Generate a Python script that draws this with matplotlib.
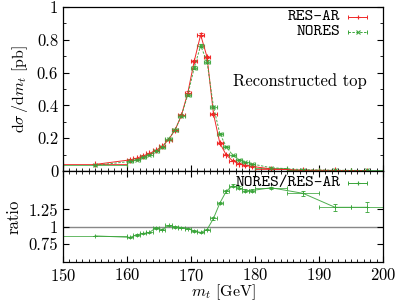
import numpy as np
import matplotlib
matplotlib.use("Agg")
import matplotlib.pyplot as plt
from matplotlib.ticker import MultipleLocator, FormatStrFormatter

plt.rcParams['font.family'] = ['cmr10', 'DejaVu Serif']
plt.rcParams['mathtext.fontset'] = 'cm'
plt.rcParams['axes.formatter.use_mathtext'] = True

# bin centres and half widths (GeV)
mt = [155, 160.5, 161.5, 162.5, 163.5, 164.5, 165.5, 166.5, 167.5, 168.5,
      169.5, 170.5, 171.5, 172.5, 173.5, 174.5, 175.5, 176.5, 177.5, 178.5,
      179.5, 182.5, 187.5, 192.5, 197.5]
half_w = [5] + [0.5] * 20 + [2.5] * 4

# dsigma/dmt [pb]
res_ar = [0.040, 0.068, 0.078, 0.092, 0.107, 0.126, 0.150, 0.192, 0.250, 0.340,
          0.478, 0.670, 0.830, 0.695, 0.350, 0.170, 0.098, 0.062, 0.045, 0.034,
          0.028, 0.013, 0.0055, 0.0035, 0.0025]
nores = [0.035, 0.058, 0.069, 0.083, 0.098, 0.124, 0.144, 0.196, 0.250, 0.337,
         0.466, 0.630, 0.764, 0.667, 0.392, 0.228, 0.148, 0.097, 0.070, 0.052,
         0.043, 0.020, 0.0081, 0.0045, 0.0032]
err_top = [0.002, 0.003, 0.003, 0.003, 0.003, 0.004, 0.004, 0.004, 0.005, 0.006,
           0.007, 0.008, 0.009, 0.008, 0.006, 0.004, 0.003, 0.003, 0.002, 0.002,
           0.002, 0.001, 0.001, 0.001, 0.001]

# NORES / RES-AR
ratio = [0.87, 0.85, 0.885, 0.905, 0.92, 0.985, 0.96, 1.02, 1.0, 0.99,
         0.975, 0.94, 0.92, 0.96, 1.12, 1.34, 1.51, 1.59, 1.56, 1.52,
         1.52, 1.56, 1.48, 1.28, 1.28]
ratio_err = [0.005, 0.01, 0.01, 0.01, 0.01, 0.01, 0.01, 0.01, 0.01, 0.01,
             0.01, 0.01, 0.01, 0.01, 0.015, 0.015, 0.02, 0.02, 0.02, 0.02,
             0.02, 0.015, 0.035, 0.05, 0.07]

red = '#f02828'
green = '#3aa53a'


def key(ax, y, label, color, marker, ls='-'):
    # gnuplot style key entry: text, then a sample bar with end ticks
    ax.text(0.866, y, label, transform=ax.transAxes, ha='right', va='center',
            family='cmtt10', fontsize=12)
    ax.plot([0.891, 0.95], [y, y], transform=ax.transAxes, color=color,
            lw=0.7, ls=ls, clip_on=False)
    ax.plot([0.891, 0.95], [y, y], transform=ax.transAxes, color=color,
            lw=0, marker='|', ms=3.5, mew=0.7, clip_on=False)
    ax.plot([0.9205], [y], transform=ax.transAxes, color=color,
            marker=marker, ms=3.5, mew=0.8, clip_on=False)


fig = plt.figure(figsize=(3.99, 3.04), dpi=100)
ax1 = fig.add_axes([0.158, 0.4375, 0.802, 0.5395])
ax2 = fig.add_axes([0.158, 0.139, 0.802, 0.2985])

ax1.errorbar(mt, res_ar, xerr=half_w, yerr=err_top, color=red, lw=0.7,
             marker='+', ms=4, mew=0.8, capsize=1.5, elinewidth=0.6)
ax1.errorbar(mt, nores, xerr=half_w, yerr=err_top, color=green, lw=0.7,
             ls=(0, (2.5, 1.5)), marker='x', ms=3.5, mew=0.8, capsize=1.5,
             elinewidth=0.6, alpha=0.9)

ax1.set_xlim(150, 200)
ax1.set_ylim(0, 1)
ax1.yaxis.set_major_locator(MultipleLocator(0.2))
ax1.yaxis.set_minor_locator(MultipleLocator(0.1))
ax1.xaxis.set_major_locator(MultipleLocator(10))
ax1.xaxis.set_minor_locator(MultipleLocator(1))
ax1.yaxis.set_major_formatter(FormatStrFormatter('%g'))
ax1.tick_params(which='both', direction='in', bottom=True, top=False,
                left=True, right=True, labelbottom=False, labelsize=12)
ax1.tick_params(which='major', length=4)
ax1.tick_params(which='minor', length=2)
ax1.set_ylabel(r'$\mathrm{d}\sigma\,/\mathrm{d}m_t$ [pb]', fontsize=11.5,
               labelpad=5)
ax1.text(0.95, 0.549, 'Reconstructed top', transform=ax1.transAxes,
         ha='right', va='center', fontsize=12)
key(ax1, 0.937, 'RES-AR', red, '+')
key(ax1, 0.846, 'NORES', green, 'x', ls=(0, (2.5, 1.5)))

ax2.errorbar(mt, ratio, xerr=half_w, yerr=ratio_err, color=green, lw=0.7,
             marker='+', ms=3.5, mew=0.7, capsize=1.5, elinewidth=0.6,
             alpha=0.9)
ax2.axhline(1, color='#888888', lw=1, zorder=1)
ax2.set_xlim(150, 200)
ax2.set_ylim(0.5, 1.8)
ax2.set_yticks([0.75, 1, 1.25])
ax2.yaxis.set_major_formatter(FormatStrFormatter('%g'))
ax2.xaxis.set_major_locator(MultipleLocator(10))
ax2.xaxis.set_minor_locator(MultipleLocator(1))
ax2.tick_params(which='both', direction='in', bottom=True, top=True,
                left=True, right=True, labelsize=12)
ax2.tick_params(which='major', length=4)
ax2.tick_params(which='minor', length=2)
ax2.set_ylabel('ratio', fontsize=12, labelpad=5)
ax2.set_xlabel(r'$m_t$ [GeV]', fontsize=11.5, labelpad=-1)
key(ax2, 0.871, 'NORES/RES-AR', green, '+')

for ax in (ax1, ax2):
    for s in ax.spines.values():
        s.set_linewidth(0.9)

fig.savefig('out.png', dpi=100)
